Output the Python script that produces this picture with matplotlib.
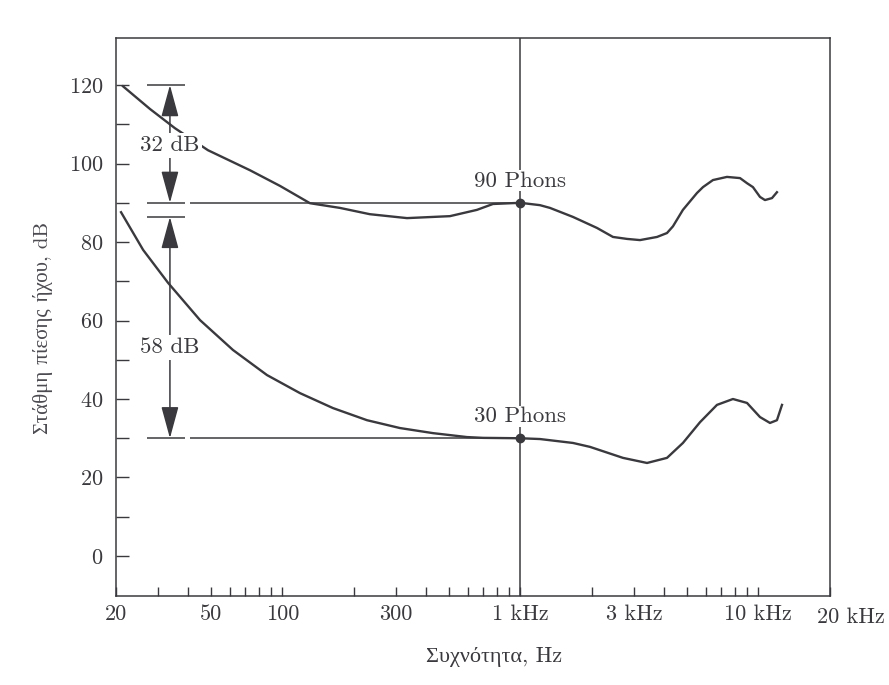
import matplotlib
matplotlib.use('Agg')
import matplotlib.pyplot as plt
from matplotlib.ticker import FixedLocator, FixedFormatter, NullFormatter

plt.rcParams['font.family'] = ['cmr10', 'Liberation Serif']
plt.rcParams['axes.formatter.use_mathtext'] = True

# %%
# καμπύλες ίσης ακουστότητας (τιμές από το σχήμα)
freq_90 = [21.4, 27.8, 35.4, 48.7, 73.1, 97.8, 130.6, 174.6, 233, 334, 506,
           657, 767, 1000, 1209, 1332, 1664, 2098, 2450, 2806, 3182, 3752,
           4132, 4376, 4820, 5522, 5852, 6446, 7380, 8374, 8960, 9490, 10160,
           10660, 11410, 11970]
level_90 = [119.7, 113.9, 109.0, 103.4, 98.3, 94.3, 89.9, 88.7, 87.1, 86.1,
            86.6, 88.2, 89.7, 90.0, 89.4, 88.7, 86.4, 83.6, 81.3, 80.8, 80.5,
            81.3, 82.3, 84.0, 88.2, 92.5, 94.0, 95.8, 96.6, 96.3, 95.0, 94.0,
            91.5, 90.7, 91.2, 92.7]

freq_30 = [21.0, 26.0, 33.1, 45.1, 62.0, 86.2, 118.6, 163, 226.8, 312, 430,
           597, 697, 1000, 1209, 1664, 1962, 2698, 3406, 4132, 4820, 5688,
           6700, 7820, 8960, 10160, 11190, 11970, 12570]
level_30 = [87.6, 78.0, 69.6, 60.1, 52.5, 46.1, 41.5, 37.7, 34.6, 32.6, 31.3,
            30.3, 30.1, 30.0, 29.8, 28.8, 27.8, 25.0, 23.7, 25.0, 28.8, 34.1,
            38.5, 40.0, 39.0, 35.4, 33.9, 34.6, 38.5]

ref_freq = 1000
ref_levels = [90, 30]
phon_labels = ['90 Phons', '30 Phons']

# διαφορές στάθμης (βέλη)
span_top = [120, 86.4]
span_bottom = [90, 30]
span_text_y = [104.7, 53.2]
span_labels = ['32 dB', '58 dB']

xtick_vals = [20, 50, 100, 300, 1000, 3000, 10000, 20000]
xtick_labels = ['20', '50', '100', '300', '1 kHz', '3 kHz', '10 kHz', '']
last_label = '20 kHz'
xminor_vals = [30, 40, 60, 70, 80, 90, 200, 400, 500, 600, 700, 800, 900,
               2000, 4000, 5000, 6000, 7000, 8000, 9000]
ytick_vals = [0, 20, 40, 60, 80, 100, 120]
yminor_vals = [10, 30, 50, 70, 90, 110]

# %%
ink = '#3a3a3e'

fig = plt.figure(figsize=(8.89, 6.85), dpi=100)
ax = fig.add_axes([116 / 889, 1 - 596 / 685, 714 / 889, 558 / 685])
ax.set_xscale('log')
ax.set_xlim(20, 20000)
ax.set_ylim(-10.2, 132.0)

for s in ax.spines.values():
    s.set_color(ink)
    s.set_linewidth(1.1)

ax.xaxis.set_major_locator(FixedLocator(xtick_vals))
ax.xaxis.set_major_formatter(FixedFormatter(xtick_labels))
ax.xaxis.set_minor_locator(FixedLocator(xminor_vals))
ax.xaxis.set_minor_formatter(NullFormatter())
ax.yaxis.set_major_locator(FixedLocator(ytick_vals))
ax.yaxis.set_minor_locator(FixedLocator(yminor_vals))

ax.tick_params(axis='x', which='both', direction='in', length=6.5, width=1,
               color=ink, labelcolor=ink, labelsize=16, pad=6)
ax.tick_params(axis='y', which='both', direction='in', length=9, width=1,
               color=ink, labelcolor=ink, labelsize=16, pad=9)
# το "20 kHz" είναι λίγο δεξιότερα από το πλαίσιο
ax.annotate(last_label, xy=(xtick_vals[-1], 0), xycoords=('data', 'axes fraction'),
            xytext=(15, -8.6), textcoords='offset points', ha='center', va='top',
            fontsize=16, color=ink, annotation_clip=False)

ax.axvline(ref_freq, color=ink, lw=1.1, zorder=1)

ax.plot(freq_90, level_90, color=ink, lw=1.7, zorder=3)
ax.plot(freq_30, level_30, color=ink, lw=1.7, zorder=3)

# οριζόντιες γραμμές αναφοράς
bar_lo, bar_hi, ann_x = 27.0, 39.0, 33.7
ax.hlines([120, 90, 86.4, 30], bar_lo, bar_hi, color=ink, lw=1.1, zorder=2)
ax.hlines(ref_levels, 41.0, ref_freq, color=ink, lw=1.1, zorder=2)
ax.plot([ref_freq] * 2, ref_levels, 'o', ms=6, color=ink, zorder=4)

for lvl, txt in zip(ref_levels, phon_labels):
    ax.text(ref_freq, lvl + 5.6, txt, ha='center', va='center', fontsize=16.5,
            color=ink, zorder=5,
            bbox=dict(fc='white', ec='none', pad=0.5))

for lo, hi, ty, txt in zip(span_bottom, span_top, span_text_y, span_labels):
    ax.annotate('', xy=(ann_x, hi), xytext=(ann_x, lo),
                arrowprops=dict(arrowstyle='<|-|>,head_length=1.1,head_width=0.3',
                                color=ink, lw=1.1, shrinkA=0, shrinkB=0,
                                mutation_scale=18), zorder=4)
    ax.text(ann_x, ty, txt, ha='center', va='center', fontsize=16.5,
            color=ink, zorder=6, bbox=dict(fc='white', ec='none', pad=2))

ax.set_xlabel('Συχνότητα, Hz', fontsize=16, color=ink)
ax.xaxis.set_label_coords(0.529, -0.11)
ax.xaxis.label.set_verticalalignment('center')
ax.set_ylabel('Στάθμη πίεσης ήχου, dB', fontsize=15, color='#4a4a50')
ax.yaxis.set_label_coords(-0.102, 0.48)
ax.yaxis.label.set_verticalalignment('center')

fig.savefig('out.png', dpi=100)
